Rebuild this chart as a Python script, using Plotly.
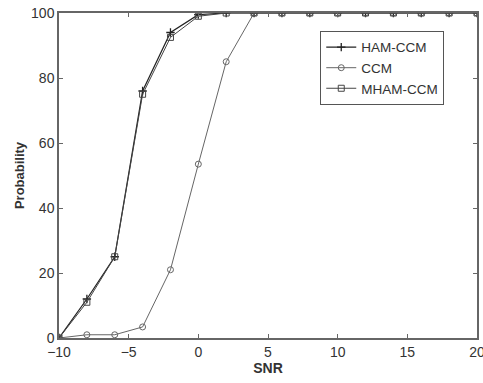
import plotly.graph_objects as go

snr = [-10, -8, -6, -4, -2, 0, 2, 4, 6, 8, 10, 12, 14, 16, 18, 20]
ham_ccm = [0, 12, 25, 76, 94, 99.5, 100, 100, 100, 100, 100, 100, 100, 100, 100, 100]
ccm = [0, 1, 1, 3.4, 21, 53.5, 85, 100, 100, 100, 100, 100, 100, 100, 100, 100]
mham_ccm = [0, 11, 25, 75, 92.5, 99, 100, 100, 100, 100, 100, 100, 100, 100, 100, 100]

fig = go.Figure()
fig.add_trace(go.Scatter(x=snr, y=ham_ccm, name="HAM-CCM", mode="lines+markers",
                         line=dict(color="#222222", width=1.2),
                         marker=dict(symbol="cross-thin", size=6, line=dict(color="#222222", width=1.3))))
fig.add_trace(go.Scatter(x=snr, y=ccm, name="CCM", mode="lines+markers",
                         line=dict(color="#666666", width=1),
                         marker=dict(symbol="circle-open", size=6, line=dict(color="#666666", width=1))))
fig.add_trace(go.Scatter(x=snr, y=mham_ccm, name="MHAM-CCM", mode="lines+markers",
                         line=dict(color="#444444", width=1),
                         marker=dict(symbol="square-open", size=6, line=dict(color="#444444", width=1))))

axis_common = dict(showgrid=False, zeroline=False, showline=True, linecolor="#666666", linewidth=1.5,
                   mirror="ticks", ticks="inside", ticklen=4, tickcolor="#666666", automargin=False,
                   ticklabeloverflow="allow",
                   tickfont=dict(family="Liberation Sans, Arial", size=14, color="#333333"))

fig.update_layout(
    width=483, height=383,
    margin=dict(l=59, r=6, t=13, b=45),
    paper_bgcolor="white", plot_bgcolor="white",
    font=dict(family="Liberation Sans, Arial", color="#333333"),
    xaxis=dict(range=[-10, 20], tickvals=[-10, -5, 0, 5, 10, 15, 20],
               title=dict(text="<b>SNR</b>", font=dict(size=14), standoff=2), **axis_common),
    yaxis=dict(range=[0, 100], tickvals=[0, 20, 40, 60, 80, 100],
               title=dict(text="<b>Probability</b>", font=dict(size=13), standoff=4), **axis_common),
    legend=dict(x=0.625, y=0.945, xanchor="left", yanchor="top",
                bordercolor="#555555", borderwidth=1, bgcolor="white",
                font=dict(size=13.5, color="#333333"), tracegroupgap=0, itemwidth=30),
    showlegend=True,
)

fig.write_html("out.html", config={"displayModeBar": False},
               post_script="document.body.style.margin='0';document.body.style.overflow='hidden';")
